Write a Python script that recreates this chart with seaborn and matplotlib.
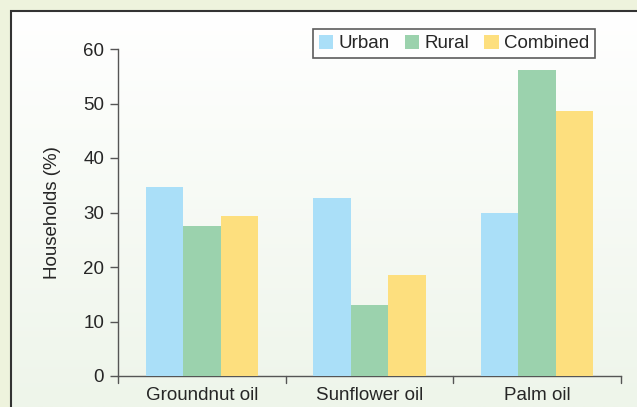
import numpy as np
import pandas as pd
import matplotlib
matplotlib.use("Agg")
import matplotlib.pyplot as plt
import seaborn as sns
from matplotlib.patches import Rectangle

# =========================
# data
# =========================
oils = ["Groundnut oil", "Sunflower oil", "Palm oil"]
groups = ["Urban", "Rural", "Combined"]
urban = [34.7, 32.7, 29.9]
rural = [27.5, 13.0, 56.1]
combined = [29.4, 18.5, 48.6]
colors = ["#aadff8", "#9bd2ad", "#fddf7e"]

df = pd.DataFrame({
    "oil": oils * 3,
    "group": [g for g in groups for _ in oils],
    "value": urban + rural + combined,
})

sns.set_style("white")
plt.rcParams["font.family"] = ["Liberation Sans", "DejaVu Sans"]

fig = plt.figure(figsize=(6.37, 4.07), dpi=100)
fig.patch.set_facecolor("#eef3dd")

# panel with gradient (white top -> pale green bottom)
bg = fig.add_axes([11 / 637, 0, 1, 1 - 11 / 407], zorder=0)
grad = np.linspace(0, 1, 256).reshape(-1, 1)
top = np.array([1.0, 1.0, 1.0])
bot = np.array([0xee, 0xf5, 0xea]) / 255
img = top[None, None, :] * (1 - grad[:, :, None]) + bot[None, None, :] * grad[:, :, None]
bg.imshow(img, aspect="auto", extent=[0, 1, 0, 1])
bg.set_axis_off()
fig.add_artist(Rectangle((11 / 637, -0.05), 1.2, 1.05 - 11 / 407,
                         transform=fig.transFigure, fill=False,
                         edgecolor="#333333", linewidth=1.5, zorder=1))

ax = fig.add_axes([118 / 637, 1 - 376 / 407, (621 - 118) / 637, (376 - 49) / 407], zorder=2)
ax.patch.set_alpha(0)

sns.barplot(data=df, x="oil", y="value", hue="group", palette=colors,
            width=0.67, saturation=1, linewidth=0, ax=ax, zorder=3)

ax.set_ylim(0, 60)
ax.set_xlim(-0.5, 2.5)
ax.set_yticks(range(0, 61, 10))
ax.set_xticks([0, 1, 2])
ax.set_xticklabels(oils, fontsize=13.5)
ax.tick_params(axis="y", labelsize=13.5, length=6, width=1, color="#555555", direction="out", left=True, pad=4)
ax.tick_params(axis="x", length=0, pad=8)
for xb in [-0.5, 0.5, 1.5, 2.5]:
    ax.plot([xb, xb], [0, -1.3], color="#555555", lw=1, clip_on=False)
ax.set_xlabel("")
ax.set_ylabel("Households (%)", fontsize=13.5, labelpad=16)
for s in ["top", "right"]:
    ax.spines[s].set_visible(False)
for s in ["left", "bottom"]:
    ax.spines[s].set_color("#555555")
    ax.spines[s].set_linewidth(1)

leg = ax.legend(loc="upper right", bbox_to_anchor=(595 / 637, 1 - 29 / 407), bbox_transform=fig.transFigure,
                ncol=3, frameon=True, fancybox=False, fontsize=13.5,
                handlelength=0.75, handleheight=0.8, handletextpad=0.3, columnspacing=0.8,
                borderpad=0.3, borderaxespad=0, edgecolor="#333333")
leg.get_frame().set_linewidth(1.2)
leg.get_frame().set_facecolor("white")
leg.set_title(None)

fig.savefig("out.png", dpi=100, facecolor=fig.get_facecolor())
